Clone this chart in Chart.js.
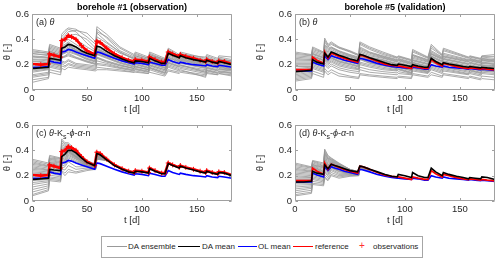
<!DOCTYPE html>
<html><head><meta charset="utf-8">
<script src="https://cdn.jsdelivr.net/npm/chart.js@4.4.0/dist/chart.umd.min.js"></script>
<style>
html,body{margin:0;padding:0;background:#fff;overflow:hidden;width:500px;height:262px;position:relative;}
.cbox{position:absolute;}
.ttl{position:absolute;font:bold 9px "Liberation Sans",Arial,sans-serif;color:#000;white-space:nowrap;transform:translateX(-50%);line-height:10px;}
.pl{position:absolute;font:9px "Liberation Sans",Arial,sans-serif;color:#262626;white-space:nowrap;line-height:10px;}
#legend{position:absolute;left:101px;top:236px;width:320px;height:20px;border:1px solid #a6a6a6;background:#fff;font:8px "Liberation Sans",Arial,sans-serif;color:#262626;}
#legend .ln{position:absolute;top:9px;height:0;}
#legend .tx{position:absolute;top:5px;line-height:10px;white-space:nowrap;}
#legend .plus{position:absolute;left:257px;top:4px;line-height:10px;font-size:10px;color:#ff3030;}
</style></head>
<body>
<div class="cbox" style="left:0;top:0;width:240px;height:115px"><canvas id="ca" width="240" height="115"></canvas></div>
<div class="cbox" style="left:253px;top:0;width:247px;height:115px"><canvas id="cb" width="247" height="115"></canvas></div>
<div class="cbox" style="left:0;top:111px;width:240px;height:115px"><canvas id="cc" width="240" height="115"></canvas></div>
<div class="cbox" style="left:253px;top:111px;width:247px;height:115px"><canvas id="cd" width="247" height="115"></canvas></div>

<div class="ttl" style="left:132px;top:2px">borehole #1 (observation)</div>
<div class="ttl" style="left:395px;top:2px">borehole #5 (validation)</div>
<div class="pl" style="left:36px;top:17px">(a) <i>θ</i></div>
<div class="pl" style="left:299px;top:17px">(b) <i>θ</i></div>
<div class="pl" style="left:36px;top:128px">(c) <i>θ</i>-K<sub style="font-size:7px;line-height:0">s</sub>-<i>ϕ</i>-<i>α</i>-n</div>
<div class="pl" style="left:299px;top:128px">(d) <i>θ</i>-K<sub style="font-size:7px;line-height:0">s</sub>-<i>ϕ</i>-<i>α</i>-n</div>

<div id="legend">
  <div class="ln" style="left:5px;width:20px;border-top:1px solid #999"></div><div class="tx" style="left:26px">DA ensemble</div>
  <div class="ln" style="left:76px;width:22px;border-top:1.5px solid #000"></div><div class="tx" style="left:100px">DA mean</div>
  <div class="ln" style="left:136px;width:19px;border-top:1.5px solid #0000ff"></div><div class="tx" style="left:156px">OL mean</div>
  <div class="ln" style="left:191px;width:20px;border-top:1.5px solid #ff0000"></div><div class="tx" style="left:213px">reference</div>
  <div class="plus">+</div><div class="tx" style="left:271px">observations</div>
</div>

<script>
// ---------------- DATA ----------------
const X_TICKS = [0, 50, 100, 150];
const Y_TICKS = [0, 0.2, 0.4, 0.6];

// time grid of the mean / reference curves [d]
const T = [0,8,15,16,20,26,27,30,33,36,40,45,50,57,59,62,68,75,82,88,93,94,100,106,107,112,118,121,124,128,134,135,140,147,153,158,159,164,169,170,175,182];

// borehole #1
const REF_1   = [0.205,0.20,0.205,0.285,0.275,0.26,0.39,0.40,0.43,0.42,0.40,0.35,0.31,0.28,0.385,0.375,0.33,0.285,0.255,0.235,0.225,0.24,0.235,0.225,0.26,0.24,0.22,0.22,0.30,0.285,0.265,0.28,0.265,0.25,0.235,0.225,0.24,0.225,0.215,0.23,0.225,0.205];
const OBS_1   = [0.205,0.20,0.205,0.285,0.275,0.26,0.39,0.40,0.43,0.42,0.40,0.35,0.31,0.28,0.385,0.375,0.33,0.285,0.255,0.235,0.225,0.24,0.235,0.225,0.26,0.24,0.22,0.22,0.30,0.285,0.265,0.28,0.265,0.25,0.235,0.225,0.24,0.225,0.215,0.23,0.225,0.205];
const OL_1    = [0.18,0.18,0.185,0.23,0.22,0.21,0.30,0.305,0.32,0.315,0.30,0.285,0.27,0.25,0.30,0.295,0.275,0.25,0.23,0.215,0.205,0.215,0.21,0.20,0.22,0.21,0.195,0.195,0.24,0.225,0.21,0.22,0.21,0.20,0.195,0.19,0.20,0.19,0.185,0.195,0.19,0.18];
const DA_A    = [0.17,0.175,0.18,0.25,0.245,0.235,0.33,0.34,0.36,0.355,0.34,0.31,0.29,0.27,0.345,0.34,0.305,0.27,0.245,0.225,0.215,0.23,0.225,0.215,0.25,0.23,0.21,0.21,0.29,0.275,0.255,0.27,0.255,0.24,0.23,0.22,0.235,0.22,0.21,0.225,0.215,0.20];
const DA_C    = [0.17,0.175,0.18,0.25,0.245,0.24,0.35,0.37,0.40,0.40,0.38,0.34,0.305,0.28,0.375,0.365,0.325,0.28,0.25,0.23,0.22,0.235,0.23,0.22,0.255,0.235,0.215,0.215,0.295,0.28,0.26,0.275,0.26,0.245,0.23,0.22,0.235,0.22,0.21,0.225,0.22,0.20];

// borehole #5
const REF_5   = [0.16,0.16,0.16,0.26,0.235,0.21,0.30,0.25,0.29,0.28,0.265,0.25,0.235,0.22,0.275,0.27,0.25,0.225,0.205,0.195,0.19,0.19,0.18,0.17,0.19,0.18,0.17,0.17,0.24,0.215,0.19,0.21,0.20,0.185,0.175,0.17,0.175,0.17,0.165,0.17,0.165,0.16];
const OL_5    = [0.15,0.15,0.15,0.22,0.205,0.19,0.27,0.24,0.27,0.26,0.25,0.235,0.225,0.21,0.25,0.245,0.23,0.21,0.195,0.185,0.18,0.18,0.175,0.17,0.18,0.175,0.165,0.165,0.20,0.19,0.18,0.19,0.18,0.175,0.17,0.165,0.17,0.165,0.16,0.165,0.16,0.155];
const DA_B    = [0.145,0.15,0.155,0.24,0.22,0.205,0.29,0.26,0.30,0.29,0.275,0.26,0.245,0.23,0.28,0.275,0.255,0.235,0.215,0.20,0.195,0.205,0.195,0.185,0.20,0.19,0.18,0.18,0.25,0.225,0.20,0.215,0.205,0.195,0.185,0.18,0.185,0.18,0.175,0.18,0.175,0.17];
const DA_D    = [0.15,0.15,0.155,0.235,0.22,0.21,0.285,0.255,0.29,0.28,0.27,0.255,0.24,0.23,0.275,0.27,0.25,0.23,0.21,0.195,0.19,0.21,0.20,0.185,0.225,0.20,0.185,0.185,0.26,0.23,0.20,0.225,0.21,0.195,0.185,0.175,0.185,0.18,0.175,0.19,0.185,0.17];

// ensemble time grids [d]
const TE = [0,15,16,26,27,30,33,40,50,58,59,68,80,93,94,106,107,121,124,134,135,158,159,169,170,182];
const TE_EARLY = [0,15,16,26,27,30,33,40,50,58,59,68];

// DA ensemble members, panel (a)
const ENS_A = [
 [0.32,0.30,0.36,0.33,0.44,0.47,0.49,0.48,0.42,0.36,0.50,0.44,0.34,0.28,0.30,0.26,0.30,0.25,0.33,0.28,0.30,0.25,0.27,0.24,0.26,0.24],
 [0.31,0.29,0.35,0.32,0.40,0.43,0.46,0.47,0.45,0.38,0.46,0.42,0.33,0.27,0.29,0.25,0.29,0.24,0.31,0.26,0.28,0.23,0.25,0.22,0.24,0.22],
 [0.30,0.29,0.34,0.31,0.42,0.45,0.48,0.46,0.37,0.31,0.48,0.41,0.31,0.26,0.28,0.25,0.28,0.24,0.32,0.27,0.29,0.24,0.26,0.23,0.25,0.23],
 [0.29,0.27,0.32,0.29,0.38,0.40,0.43,0.44,0.40,0.33,0.40,0.35,0.29,0.25,0.27,0.24,0.27,0.23,0.31,0.27,0.28,0.26,0.28,0.25,0.27,0.26],
 [0.285,0.28,0.33,0.30,0.39,0.41,0.44,0.40,0.34,0.30,0.42,0.37,0.30,0.25,0.27,0.24,0.28,0.23,0.30,0.26,0.27,0.23,0.25,0.22,0.24,0.23],
 [0.27,0.26,0.31,0.28,0.36,0.38,0.40,0.36,0.30,0.28,0.45,0.38,0.30,0.24,0.26,0.23,0.27,0.22,0.30,0.26,0.27,0.23,0.25,0.22,0.24,0.22],
 [0.265,0.255,0.305,0.275,0.34,0.35,0.37,0.33,0.285,0.265,0.34,0.30,0.255,0.225,0.245,0.215,0.255,0.215,0.285,0.245,0.255,0.215,0.235,0.21,0.225,0.205],
 [0.26,0.25,0.30,0.27,0.35,0.36,0.38,0.34,0.29,0.27,0.35,0.30,0.26,0.23,0.25,0.22,0.26,0.22,0.29,0.25,0.26,0.22,0.24,0.22,0.23,0.21],
 [0.245,0.24,0.29,0.265,0.325,0.335,0.355,0.315,0.275,0.255,0.325,0.285,0.245,0.215,0.235,0.205,0.245,0.205,0.27,0.235,0.245,0.205,0.225,0.205,0.215,0.195],
 [0.24,0.23,0.29,0.26,0.33,0.34,0.36,0.32,0.28,0.26,0.33,0.29,0.25,0.22,0.24,0.21,0.25,0.21,0.28,0.24,0.25,0.21,0.23,0.21,0.22,0.20],
 [0.225,0.215,0.27,0.245,0.31,0.32,0.34,0.305,0.265,0.245,0.30,0.265,0.235,0.205,0.225,0.195,0.235,0.195,0.255,0.225,0.235,0.195,0.215,0.195,0.205,0.185],
 [0.23,0.22,0.28,0.25,0.32,0.33,0.35,0.31,0.27,0.25,0.32,0.28,0.24,0.21,0.23,0.20,0.24,0.20,0.26,0.23,0.24,0.20,0.22,0.20,0.21,0.19],
 [0.21,0.21,0.26,0.24,0.30,0.31,0.33,0.30,0.26,0.24,0.31,0.27,0.23,0.20,0.22,0.19,0.23,0.19,0.25,0.22,0.23,0.19,0.21,0.19,0.20,0.18],
 [0.20,0.20,0.25,0.23,0.29,0.30,0.32,0.29,0.25,0.23,0.29,0.26,0.22,0.19,0.21,0.18,0.22,0.18,0.24,0.21,0.22,0.18,0.20,0.18,0.19,0.17],
 [0.195,0.195,0.245,0.225,0.285,0.295,0.31,0.285,0.245,0.225,0.285,0.255,0.215,0.185,0.205,0.175,0.215,0.175,0.235,0.205,0.215,0.175,0.195,0.175,0.185,0.165],
 [0.18,0.19,0.24,0.22,0.28,0.29,0.30,0.28,0.24,0.22,0.28,0.25,0.21,0.18,0.20,0.17,0.21,0.17,0.23,0.20,0.21,0.17,0.19,0.17,0.18,0.16],
 [0.16,0.17,0.22,0.20,0.26,0.27,0.29,0.26,0.23,0.21,0.26,0.23,0.20,0.17,0.19,0.16,0.20,0.16,0.22,0.19,0.20,0.14,0.18,0.16,0.17,0.16],
 [0.15,0.165,0.215,0.195,0.255,0.265,0.28,0.255,0.225,0.205,0.255,0.225,0.195,0.17,0.185,0.16,0.195,0.16,0.215,0.185,0.195,0.16,0.175,0.155,0.165,0.155],
 [0.14,0.16,0.21,0.19,0.25,0.26,0.27,0.25,0.22,0.20,0.25,0.22,0.19,0.17,0.18,0.16,0.19,0.15,0.21,0.18,0.19,0.15,0.17,0.15,0.16,0.15],
 [0.12,0.14,0.20,0.18,0.23,0.22,0.24,0.21,0.20,0.19,0.23,0.21,0.18,0.16,0.17,0.15,0.18,0.14,0.20,0.17,0.18,0.14,0.16,0.14,0.15,0.14],
 [0.11,0.13,0.19,0.17,0.22,0.21,0.23,0.20,0.19,0.18,0.21,0.20,0.175,0.155,0.165,0.145,0.175,0.135,0.19,0.16,0.17,0.13,0.155,0.135,0.145,0.135],
 [0.10,0.12,0.18,0.16,0.21,0.19,0.21,0.19,0.18,0.17,0.20,0.19,0.17,0.15,0.16,0.14,0.17,0.13,0.18,0.15,0.16,0.10,0.15,0.13,0.14,0.13],
 [0.08,0.10,0.16,0.14,0.19,0.18,0.20,0.18,0.17,0.16,0.18,0.17,0.16,0.14,0.15,0.13,0.16,0.12,0.16,0.14,0.15,0.12,0.14,0.12,0.13,0.12],
 [0.06,0.09,0.14,0.12,0.17,0.16,0.18,0.17,0.16,0.15,0.16,0.16,0.15,0.14,0.14,0.13,0.14,0.11,0.15,0.13,0.14,0.11,0.13,0.12,0.13,0.11]
];

// DA ensemble members, panel (b)
const ENS_B = [
 [0.30,0.28,0.34,0.30,0.41,0.36,0.38,0.34,0.31,0.28,0.38,0.34,0.30,0.26,0.27,0.24,0.32,0.26,0.36,0.28,0.33,0.26,0.27,0.25,0.27,0.28],
 [0.29,0.275,0.33,0.295,0.395,0.35,0.37,0.335,0.305,0.275,0.37,0.33,0.29,0.255,0.265,0.235,0.31,0.255,0.345,0.275,0.32,0.255,0.265,0.245,0.265,0.265],
 [0.28,0.27,0.32,0.29,0.38,0.34,0.36,0.33,0.30,0.27,0.36,0.32,0.28,0.25,0.26,0.23,0.30,0.25,0.33,0.27,0.31,0.25,0.26,0.24,0.26,0.25],
 [0.27,0.26,0.31,0.28,0.36,0.33,0.34,0.31,0.28,0.26,0.34,0.30,0.27,0.24,0.25,0.22,0.28,0.24,0.31,0.26,0.29,0.24,0.25,0.23,0.25,0.24],
 [0.26,0.25,0.30,0.27,0.35,0.32,0.335,0.305,0.275,0.255,0.33,0.295,0.265,0.235,0.245,0.215,0.275,0.235,0.30,0.255,0.28,0.235,0.245,0.225,0.245,0.235],
 [0.25,0.24,0.29,0.26,0.34,0.31,0.33,0.30,0.27,0.25,0.32,0.29,0.26,0.23,0.24,0.21,0.27,0.23,0.29,0.25,0.27,0.23,0.24,0.22,0.24,0.23],
 [0.24,0.235,0.285,0.255,0.33,0.30,0.32,0.29,0.265,0.245,0.31,0.28,0.255,0.225,0.235,0.205,0.26,0.225,0.285,0.245,0.265,0.225,0.235,0.215,0.235,0.225],
 [0.23,0.23,0.28,0.25,0.32,0.29,0.31,0.28,0.26,0.24,0.30,0.27,0.25,0.22,0.23,0.20,0.25,0.22,0.28,0.24,0.26,0.22,0.23,0.21,0.23,0.22],
 [0.22,0.22,0.27,0.24,0.31,0.28,0.30,0.27,0.25,0.23,0.29,0.26,0.24,0.21,0.22,0.19,0.24,0.21,0.27,0.23,0.25,0.21,0.22,0.20,0.22,0.21],
 [0.21,0.21,0.265,0.235,0.305,0.275,0.295,0.265,0.245,0.225,0.285,0.255,0.235,0.205,0.215,0.185,0.235,0.205,0.265,0.225,0.245,0.205,0.215,0.195,0.215,0.205],
 [0.20,0.20,0.26,0.23,0.30,0.27,0.29,0.26,0.24,0.22,0.28,0.25,0.23,0.20,0.21,0.18,0.23,0.20,0.26,0.22,0.24,0.20,0.21,0.19,0.21,0.20],
 [0.19,0.19,0.25,0.22,0.29,0.26,0.28,0.25,0.23,0.21,0.27,0.24,0.22,0.19,0.20,0.18,0.22,0.19,0.25,0.21,0.23,0.19,0.20,0.18,0.20,0.19],
 [0.185,0.185,0.245,0.215,0.285,0.255,0.275,0.245,0.225,0.205,0.265,0.235,0.215,0.185,0.195,0.175,0.215,0.185,0.245,0.205,0.225,0.185,0.195,0.175,0.195,0.185],
 [0.17,0.18,0.24,0.21,0.28,0.25,0.27,0.24,0.22,0.20,0.26,0.23,0.21,0.18,0.19,0.17,0.21,0.18,0.24,0.20,0.22,0.18,0.19,0.17,0.19,0.18],
 [0.16,0.17,0.23,0.20,0.27,0.24,0.26,0.23,0.21,0.19,0.25,0.22,0.20,0.17,0.18,0.16,0.20,0.17,0.23,0.19,0.21,0.17,0.18,0.16,0.18,0.17],
 [0.155,0.165,0.225,0.195,0.265,0.235,0.255,0.225,0.205,0.185,0.245,0.215,0.195,0.17,0.18,0.155,0.195,0.165,0.225,0.185,0.205,0.165,0.175,0.155,0.175,0.165],
 [0.14,0.16,0.22,0.19,0.26,0.23,0.25,0.22,0.20,0.18,0.24,0.21,0.19,0.17,0.18,0.15,0.19,0.16,0.22,0.18,0.20,0.16,0.17,0.15,0.17,0.16],
 [0.13,0.15,0.21,0.18,0.25,0.22,0.24,0.21,0.19,0.17,0.22,0.20,0.18,0.16,0.17,0.14,0.18,0.15,0.20,0.17,0.18,0.15,0.16,0.14,0.16,0.15],
 [0.12,0.14,0.20,0.17,0.24,0.21,0.23,0.20,0.18,0.165,0.21,0.19,0.17,0.155,0.165,0.135,0.175,0.145,0.19,0.16,0.18,0.14,0.155,0.135,0.155,0.145],
 [0.11,0.13,0.19,0.16,0.23,0.20,0.22,0.19,0.17,0.16,0.20,0.18,0.16,0.15,0.16,0.13,0.17,0.14,0.18,0.15,0.17,0.13,0.15,0.13,0.15,0.14],
 [0.10,0.12,0.18,0.15,0.215,0.185,0.205,0.175,0.155,0.145,0.18,0.16,0.145,0.135,0.145,0.125,0.16,0.135,0.17,0.14,0.16,0.125,0.14,0.12,0.14,0.13],
 [0.09,0.11,0.17,0.14,0.20,0.17,0.19,0.16,0.14,0.13,0.16,0.14,0.13,0.12,0.13,0.12,0.15,0.13,0.16,0.13,0.15,0.12,0.13,0.11,0.13,0.12],
 [0.08,0.10,0.15,0.12,0.17,0.14,0.16,0.13,0.11,0.10,0.13,0.12,0.11,0.10,0.11,0.10,0.13,0.11,0.14,0.11,0.13,0.10,0.11,0.09,0.11,0.10],
 [0.07,0.09,0.13,0.10,0.15,0.12,0.14,0.11,0.10,0.09,0.12,0.11,0.10,0.09,0.10,0.09,0.12,0.10,0.12,0.10,0.12,0.09,0.10,0.08,0.09,0.08]
];

// DA ensemble members, panel (c) (converged behind the mean after ~day 60)
const ENS_C = [
 [0.33,0.30,0.36,0.34,0.49,0.46,0.46,0.40,0.32,0.29,0.38,0.335],
 [0.32,0.29,0.35,0.335,0.475,0.45,0.45,0.395,0.315,0.285,0.375,0.33],
 [0.31,0.28,0.34,0.33,0.46,0.44,0.44,0.39,0.31,0.28,0.37,0.33],
 [0.30,0.275,0.335,0.32,0.445,0.43,0.435,0.385,0.31,0.28,0.37,0.33],
 [0.29,0.27,0.33,0.31,0.43,0.42,0.43,0.38,0.31,0.28,0.37,0.33],
 [0.28,0.26,0.32,0.305,0.42,0.41,0.425,0.375,0.305,0.28,0.365,0.33],
 [0.27,0.25,0.31,0.30,0.41,0.40,0.42,0.37,0.30,0.28,0.36,0.33],
 [0.26,0.245,0.305,0.29,0.40,0.395,0.415,0.365,0.30,0.275,0.36,0.325],
 [0.25,0.24,0.30,0.28,0.39,0.39,0.41,0.36,0.30,0.27,0.36,0.325],
 [0.24,0.23,0.295,0.275,0.38,0.385,0.405,0.355,0.295,0.27,0.36,0.325],
 [0.23,0.22,0.29,0.27,0.37,0.38,0.40,0.35,0.29,0.27,0.36,0.325],
 [0.22,0.215,0.285,0.265,0.36,0.37,0.395,0.35,0.29,0.27,0.355,0.325],
 [0.21,0.21,0.28,0.26,0.35,0.36,0.39,0.35,0.29,0.27,0.35,0.325],
 [0.20,0.20,0.27,0.25,0.34,0.35,0.385,0.345,0.29,0.27,0.35,0.32],
 [0.19,0.19,0.26,0.24,0.33,0.34,0.38,0.34,0.29,0.27,0.35,0.32],
 [0.175,0.18,0.25,0.23,0.32,0.33,0.37,0.335,0.285,0.265,0.35,0.32],
 [0.16,0.17,0.24,0.22,0.31,0.32,0.36,0.33,0.28,0.26,0.35,0.32],
 [0.145,0.16,0.23,0.21,0.30,0.31,0.35,0.32,0.28,0.26,0.345,0.32],
 [0.13,0.15,0.22,0.20,0.29,0.30,0.34,0.31,0.28,0.26,0.34,0.32],
 [0.11,0.135,0.205,0.19,0.275,0.285,0.325,0.30,0.275,0.26,0.34,0.32],
 [0.09,0.12,0.19,0.18,0.26,0.27,0.31,0.27,0.27,0.26,0.34,0.32],
 [0.07,0.105,0.18,0.17,0.25,0.245,0.28,0.25,0.26,0.255,0.335,0.32],
 [0.05,0.09,0.17,0.16,0.24,0.22,0.25,0.23,0.25,0.25,0.33,0.32],
 [0.04,0.08,0.16,0.15,0.23,0.20,0.23,0.22,0.24,0.25,0.33,0.32]
];

// DA ensemble members, panel (d)
const ENS_D = [
 [0.30,0.27,0.32,0.30,0.41,0.36,0.34,0.30,0.25,0.23,0.28,0.255],
 [0.29,0.265,0.315,0.29,0.40,0.35,0.335,0.295,0.25,0.23,0.28,0.255],
 [0.28,0.26,0.31,0.28,0.39,0.34,0.33,0.29,0.25,0.23,0.28,0.255],
 [0.27,0.25,0.30,0.275,0.38,0.335,0.325,0.285,0.245,0.225,0.275,0.25],
 [0.26,0.24,0.29,0.27,0.37,0.33,0.32,0.28,0.24,0.22,0.27,0.25],
 [0.25,0.235,0.285,0.265,0.36,0.32,0.315,0.275,0.24,0.22,0.27,0.25],
 [0.24,0.23,0.28,0.26,0.35,0.31,0.31,0.27,0.24,0.22,0.27,0.25],
 [0.23,0.22,0.275,0.25,0.34,0.30,0.305,0.27,0.24,0.22,0.27,0.25],
 [0.22,0.21,0.27,0.24,0.33,0.29,0.30,0.27,0.24,0.22,0.27,0.25],
 [0.21,0.20,0.265,0.235,0.32,0.285,0.295,0.265,0.235,0.22,0.27,0.25],
 [0.20,0.19,0.26,0.23,0.31,0.28,0.29,0.26,0.23,0.22,0.27,0.25],
 [0.19,0.185,0.255,0.225,0.305,0.275,0.29,0.26,0.23,0.22,0.265,0.25],
 [0.18,0.18,0.25,0.22,0.30,0.27,0.29,0.26,0.23,0.22,0.26,0.25],
 [0.17,0.17,0.24,0.21,0.29,0.26,0.285,0.255,0.23,0.22,0.26,0.245],
 [0.16,0.16,0.23,0.20,0.28,0.25,0.28,0.25,0.23,0.22,0.26,0.245],
 [0.15,0.15,0.22,0.195,0.27,0.245,0.275,0.245,0.225,0.215,0.26,0.245],
 [0.14,0.14,0.21,0.19,0.26,0.24,0.27,0.24,0.22,0.21,0.26,0.245],
 [0.125,0.13,0.20,0.18,0.25,0.23,0.265,0.235,0.22,0.21,0.26,0.245],
 [0.11,0.12,0.19,0.17,0.24,0.22,0.26,0.23,0.22,0.21,0.26,0.245],
 [0.095,0.11,0.18,0.16,0.23,0.21,0.25,0.22,0.215,0.21,0.255,0.245],
 [0.08,0.10,0.17,0.15,0.22,0.20,0.24,0.21,0.21,0.21,0.25,0.245],
 [0.065,0.085,0.155,0.14,0.205,0.185,0.225,0.20,0.205,0.205,0.25,0.245],
 [0.05,0.07,0.14,0.13,0.19,0.17,0.21,0.19,0.20,0.20,0.25,0.245],
 [0.04,0.06,0.13,0.12,0.18,0.16,0.20,0.18,0.195,0.20,0.25,0.245]
];

// ---------------- CHARTS ----------------
const FONT = '"Liberation Sans", Arial, sans-serif';
const TICK_COLOR = '#262626';
const xy = (xs, ys) => ys.map((v, i) => ({x: xs[i], y: v}));

const boxPlugin = {
  id: 'matlabBox',
  afterDraw(chart) {
    const {ctx, chartArea: a, scales: {x, y}} = chart;
    const L = Math.round(a.left) + 0.5, R = Math.round(a.right) - 0.5;
    const Tp = Math.round(a.top) + 0.5, B = Math.round(a.bottom) - 0.5;
    ctx.save();
    ctx.strokeStyle = '#a0a0a0';
    ctx.lineWidth = 1;
    ctx.beginPath();
    ctx.moveTo(L, Tp); ctx.lineTo(R, Tp); ctx.lineTo(R, B); ctx.lineTo(L, B); ctx.closePath();
    X_TICKS.forEach(v => {
      const p = Math.round(x.getPixelForValue(v)) + 0.5;
      ctx.moveTo(p, B); ctx.lineTo(p, B - 2.5);
      ctx.moveTo(p, Tp); ctx.lineTo(p, Tp + 2.5);
    });
    Y_TICKS.forEach(v => {
      const p = Math.round(y.getPixelForValue(v)) + 0.5;
      ctx.moveTo(L, p); ctx.lineTo(L + 2.5, p);
      ctx.moveTo(R, p); ctx.lineTo(R - 2.5, p);
    });
    ctx.stroke();
    ctx.restore();
  }
};

function makeChart(id, yWidth, padRight, ens, ensT, ol, ref, da, obs) {
  const datasets = [];
  datasets.push({data: xy(T, da), borderColor: '#000000', borderWidth: 1.6, order: 0});
  if (obs) datasets.push({data: xy(T, obs), borderColor: '#ff0000', showLine: false, pointStyle: 'cross', pointRadius: 2.5, pointBorderWidth: 1, order: 1});
  datasets.push({data: xy(T, ref), borderColor: '#ff0000', borderWidth: obs ? 2.6 : 1.8, order: 2});
  datasets.push({data: xy(T, ol), borderColor: '#0000ff', borderWidth: 1.6, order: 3});
  ens.forEach(m => datasets.push({data: xy(ensT, m), borderColor: '#969696', borderWidth: 0.8, order: 10}));

  new Chart(document.getElementById(id), {
    type: 'line',
    data: {datasets},
    options: {
      responsive: false, animation: false, devicePixelRatio: 1,
      layout: {padding: {top: 14, right: padRight, left: 0, bottom: 0}},
      elements: {point: {radius: 0}, line: {tension: 0}},
      plugins: {legend: {display: false}, tooltip: {enabled: false}},
      scales: {
        x: {
          type: 'linear', min: 0, max: 182,
          grid: {display: false, drawTicks: false}, border: {display: false},
          ticks: {stepSize: 50, includeBounds: false, autoSkip: false, maxRotation: 0, padding: 3,
                  color: TICK_COLOR, font: {family: FONT, size: 9.5}},
          title: {display: true, text: 't [d]', color: TICK_COLOR, padding: {top: 0, bottom: 0},
                  font: {family: FONT, size: 9.5}},
          afterFit: s => { s.height = 25; }
        },
        y: {
          type: 'linear', min: 0, max: 0.6,
          grid: {display: false, drawTicks: false}, border: {display: false},
          ticks: {stepSize: 0.2, autoSkip: false, padding: 3, color: TICK_COLOR, font: {family: FONT, size: 9.5},
                  callback: v => (Math.abs(v) < 1e-9 ? '0' : v.toFixed(1))},
          title: {display: true, text: 'θ [-]', color: TICK_COLOR, padding: {top: 2, bottom: 0},
                  font: {family: FONT, size: 9.5}},
          afterFit: s => { s.width = yWidth; }
        }
      }
    },
    plugins: [boxPlugin]
  });
}

makeChart('ca', 32, 8, ENS_A, TE, OL_1, REF_1, DA_A, OBS_1);
makeChart('cb', 42, 5, ENS_B, TE, OL_5, REF_5, DA_B, null);
makeChart('cc', 32, 8, ENS_C, TE_EARLY, OL_1, REF_1, DA_C, OBS_1);
makeChart('cd', 42, 5, ENS_D, TE_EARLY, OL_5, REF_5, DA_D, null);
</script>
</body></html>
